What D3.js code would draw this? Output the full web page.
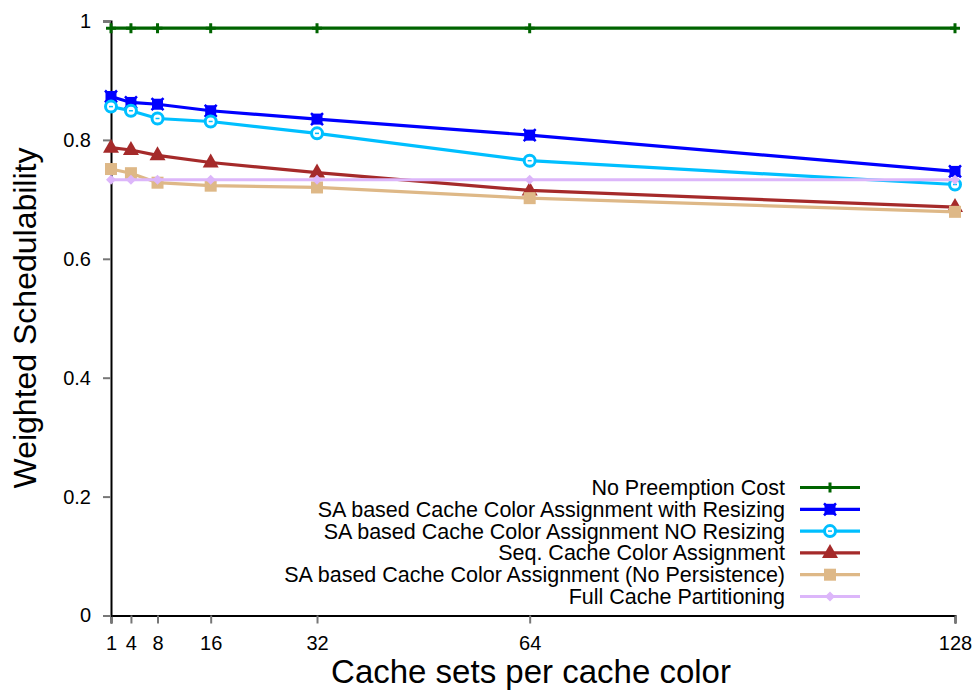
<!DOCTYPE html>
<html>
<head>
<meta charset="utf-8">
<script src="https://cdn.jsdelivr.net/npm/d3@7"></script>
<style>
  html, body { margin: 0; padding: 0; background: #fff; }
  svg { display: block; font-family: "Liberation Sans", Arial, Helvetica, sans-serif; }
</style>
</head>
<body>
<svg id="chart" width="973" height="691"></svg>
<script>
// Cache sets per cache color (x) and weighted schedulability (y) per scheme
const cacheSets = [1, 4, 8, 16, 32, 64, 128];
const yTicks = [0, 0.2, 0.4, 0.6, 0.8, 1];

const noPreemption      = [0.988, 0.988, 0.988, 0.988, 0.988, 0.988, 0.988];
const saWithResizing    = [0.873, 0.863, 0.860, 0.849, 0.835, 0.808, 0.747];
const saNoResizing      = [0.856, 0.849, 0.836, 0.831, 0.811, 0.765, 0.725];
const seqAssignment     = [0.787, 0.783, 0.774, 0.762, 0.745, 0.715, 0.687];
const saNoPersistence   = [0.751, 0.744, 0.728, 0.723, 0.720, 0.702, 0.679];
const fullPartitioning  = [0.733, 0.733, 0.733, 0.733, 0.733, 0.733, 0.733];

const seriesNames = [
  "No Preemption Cost",
  "SA based Cache Color Assignment with Resizing",
  "SA based Cache Color Assignment NO Resizing",
  "Seq. Cache Color Assignment",
  "SA based Cache Color Assignment (No Persistence)",
  "Full Cache Partitioning"
];
const seriesValues = [noPreemption, saWithResizing, saNoResizing, seqAssignment, saNoPersistence, fullPartitioning];
const seriesColors = ["#006400", "#0000ff", "#00bfff", "#a52a2a", "#deb887", "#dcb6fa"];
const seriesMarkers = ["plus", "xbox", "ring", "triangle", "square", "diamond"];

const svg = d3.select("#chart");
const plotLeft = 111, plotRight = 955, plotTop = 21, plotBottom = 615.5;

const x = d3.scaleLinear().domain([1, 128]).range([plotLeft, plotRight]);
const y = d3.scaleLinear().domain([0, 1]).range([plotBottom, plotTop]);

// Axes
const xAxis = svg.append("g").attr("transform", `translate(0,${plotBottom})`)
  .call(d3.axisBottom(x).tickValues(cacheSets).tickFormat(d3.format("d")).tickSizeOuter(0).tickSize(8).tickPadding(12));
const yAxis = svg.append("g").attr("transform", `translate(${plotLeft},0)`)
  .call(d3.axisLeft(y).tickValues(yTicks).tickFormat(d => d === 0 || d === 1 ? String(d) : d3.format(".1f")(d)).tickSizeOuter(0).tickSize(8).tickPadding(12));

[xAxis, yAxis].forEach(g => {
  g.attr("font-size", 20).attr("font-family", "Liberation Sans, Arial, sans-serif");
  g.select(".domain").attr("stroke", "#000").attr("stroke-width", 2);
  g.selectAll(".tick line").attr("stroke", "#777").attr("stroke-width", 2);
  g.selectAll(".tick text").attr("fill", "#000");
});

// Axis titles
svg.append("text")
  .attr("x", 531).attr("y", 683)
  .attr("text-anchor", "middle")
  .attr("font-size", 33).attr("fill", "#000")
  .text("Cache sets per cache color");
svg.append("text")
  .attr("transform", "translate(36,318) rotate(-90)")
  .attr("text-anchor", "middle")
  .attr("font-size", 32).attr("fill", "#000")
  .text("Weighted Schedulability");

// Marker drawing
function drawMarker(g, type, color, cx, cy) {
  switch (type) {
    case "plus":
      g.append("path").attr("d", `M${cx-5},${cy}H${cx+5}M${cx},${cy-5}V${cy+5}`)
        .attr("stroke", color).attr("stroke-width", 3);
      break;
    case "xbox":
      g.append("rect").attr("x", cx-5.5).attr("y", cy-5.5).attr("width", 11).attr("height", 11).attr("fill", color);
      g.append("path").attr("d", `M${cx-6},${cy-6}L${cx+6},${cy+6}M${cx-6},${cy+6}L${cx+6},${cy-6}`)
        .attr("stroke", color).attr("stroke-width", 2.5);
      break;
    case "ring":
      g.append("circle").attr("cx", cx).attr("cy", cy).attr("r", 5.5)
        .attr("fill", "#fff").attr("stroke", color).attr("stroke-width", 3);
      g.append("path").attr("d", `M${cx-2},${cy}H${cx+2}`).attr("stroke", color).attr("stroke-width", 1.5);
      break;
    case "triangle":
      g.append("path").attr("d", `M${cx},${cy-9}L${cx+8},${cy+5}L${cx-8},${cy+5}Z`).attr("fill", color);
      break;
    case "square":
      g.append("rect").attr("x", cx-6).attr("y", cy-6).attr("width", 12).attr("height", 12).attr("fill", color);
      break;
    case "diamond":
      g.append("path").attr("d", `M${cx},${cy-5}L${cx+5},${cy}L${cx},${cy+5}L${cx-5},${cy}Z`).attr("fill", color);
      break;
  }
}

const line = d3.line().x((d, i) => x(cacheSets[i])).y(d => y(d));

seriesValues.forEach((vals, s) => {
  const g = svg.append("g");
  g.append("path").datum(vals)
    .attr("d", line).attr("fill", "none")
    .attr("stroke", seriesColors[s]).attr("stroke-width", 3.2);
  vals.forEach((v, i) => drawMarker(g, seriesMarkers[s], seriesColors[s], x(cacheSets[i]), y(v)));
});

// Legend
const legend = svg.append("g");
seriesNames.forEach((name, s) => {
  const ly = 487.5 + s * 21.8;
  legend.append("text")
    .attr("x", 785).attr("y", ly).attr("dy", "0.35em")
    .attr("text-anchor", "end").attr("font-size", 21.5).attr("fill", "#000")
    .text(name);
  legend.append("path").attr("d", `M800,${ly}H860`)
    .attr("stroke", seriesColors[s]).attr("stroke-width", 3.2);
  drawMarker(legend, seriesMarkers[s], seriesColors[s], 830, ly);
});
</script>
</body>
</html>
